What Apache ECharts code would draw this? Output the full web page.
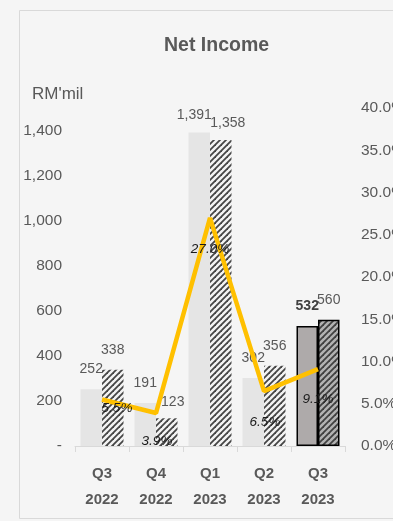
<!DOCTYPE html>
<html><head><meta charset="utf-8">
<script src="https://cdn.jsdelivr.net/npm/echarts@6/dist/echarts.min.js"></script>
<style>html,body{margin:0;padding:0;background:#f5f5f5}#c{width:393px;height:521px}</style>
</head><body><div id="c"></div>
<script>
var categories = ['Q3 2022', 'Q4 2022', 'Q1 2023', 'Q2 2023', 'Q3 2023'];
var prevYear = [252, 191, 1391, 302, 532];
var netIncome = [338, 123, 1358, 356, 560];
var margin = [0.055, 0.039, 0.270, 0.065, 0.091];
var leftTicks = [0, 200, 400, 600, 800, 1000, 1200, 1400];

// label nudges (styling only)
var nudge1 = [[0,0],[0,0],[-5,3],[0,0],[0,0]];
var nudge2 = [[0,0],[6,4],[7,3],[0,0],[0,0]];
var nudgeL = [[15,-20],[1,-1],[0,2],[1,2],[0,1]];

var FONT = "'Liberation Sans',Arial,sans-serif";

function hatch(bg, fg, w) {
  var c = document.createElement('canvas');
  c.width = 6; c.height = 6;
  var g = c.getContext('2d');
  g.fillStyle = bg; g.fillRect(0,0,6,6);
  g.strokeStyle = fg; g.lineWidth = w;
  [[-6,6,6,-6],[0,6,6,0],[0,12,12,0]].forEach(function(l){
    g.beginPath(); g.moveTo(l[0], l[1]); g.lineTo(l[2], l[3]); g.stroke();
  });
  return {image: c, repeat: 'repeat'};
}
var hatchLight = hatch('#f3f3f3', '#454545', 1.8);
var hatchDark = hatch('#b2b2b2', '#404040', 1.8);
var last = categories.length - 1;

var s1 = prevYear.map(function(v, i){
  var d = {value: v, label: {offset: nudge1[i]}};
  if (i === last) { d.itemStyle = {color: '#aeaaaa', borderColor: '#000', borderWidth: 1.5}; d.label.fontWeight = 'bold'; d.label.color = '#404040'; }
  return d;
});
var s2 = netIncome.map(function(v, i){
  var d = {value: v, label: {offset: nudge2[i]}};
  if (i === last) { d.itemStyle = {color: hatchDark, borderColor: '#000', borderWidth: 1.5}; }
  return d;
});
var s3 = margin.map(function(v, i){ return {value: v, label: {offset: nudgeL[i]}}; });

var chart = echarts.init(document.getElementById('c'), null, {renderer: 'canvas'});
chart.setOption({
  backgroundColor: '#f5f5f5',
  animation: false,
  textStyle: {fontFamily: FONT},
  graphic: [
    {type: 'rect', shape: {x: 19.5, y: 10.5, width: 420, height: 508}, style: {fill: 'none', stroke: '#d9d9d9', lineWidth: 1}, silent: true},
    {type: 'text', left: 164, top: 36, style: {text: 'Net Income', font: 'bold 19.5px ' + FONT, fill: '#595959'}},
    {type: 'text', left: 32, top: 86, style: {text: "RM'mil", font: '17px ' + FONT, fill: '#595959'}}
  ],
  grid: {left: 75, right: 48, top: 108, bottom: 75, outerBoundsMode: 'none', containLabel: false},
  xAxis: {
    type: 'category', data: categories,
    axisLine: {lineStyle: {color: '#d9d9d9', width: 1}},
    axisTick: {show: true, length: 6, lineStyle: {color: '#d9d9d9'}},
    axisLabel: {interval: 0, fontSize: 15, fontWeight: 'bold', color: '#595959', lineHeight: 26, margin: 15,
      formatter: function(v){ return v.replace(' ', '\n'); }}
  },
  yAxis: [
    {type: 'value', min: 0, max: 1500, interval: 200,
      splitLine: {show: false}, axisLine: {show: false}, axisTick: {show: false},
      axisLabel: {fontSize: 15.5, color: '#595959', margin: 13,
        formatter: function(v){ if (v === 0) return '-'; if (leftTicks.indexOf(v) < 0) return ''; return v.toLocaleString('en-US'); }}},
    {type: 'value', min: 0, max: 0.4, interval: 0.05, position: 'right',
      splitLine: {show: false}, axisLine: {show: false}, axisTick: {show: false},
      axisLabel: {fontSize: 15.5, color: '#595959', margin: 16,
        formatter: function(v){ return (v * 100).toFixed(1) + '%'; }}}
  ],
  series: [
    {type: 'bar', data: s1, barWidth: 21.5, barGap: '0%', itemStyle: {color: '#e5e5e5'},
      label: {show: true, position: 'top', distance: 13, fontSize: 14, color: '#595959',
        formatter: function(p){ return p.value.toLocaleString('en-US'); }}},
    {type: 'bar', data: s2, barWidth: 21.5, barGap: '0%', itemStyle: {color: hatchLight},
      label: {show: true, position: 'top', distance: 13, fontSize: 14, color: '#595959',
        formatter: function(p){ return p.value.toLocaleString('en-US'); }}},
    {type: 'line', yAxisIndex: 1, data: s3, showSymbol: true, symbol: 'circle', symbolSize: 0.1, z: 5,
      lineStyle: {color: '#ffc000', width: 4.5}, itemStyle: {color: '#ffc000'},
      label: {show: true, position: 'bottom', distance: 22, fontSize: 13.5, fontStyle: 'italic', color: '#1a1a1a',
        formatter: function(p){ return (p.value * 100).toFixed(1) + '%'; }}}
  ]
});
</script></body></html>
